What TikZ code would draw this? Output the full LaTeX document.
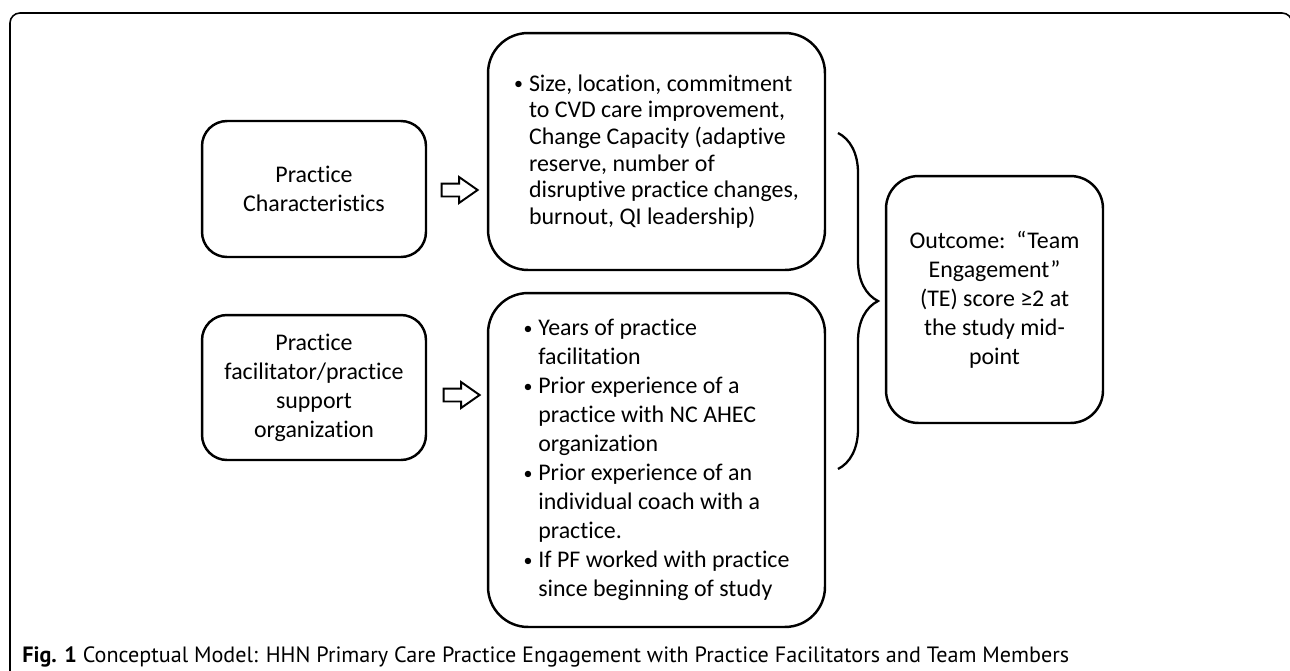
\documentclass[tikz,border=0pt]{standalone}
\usepackage{fontspec}
\setmainfont{Carlito}[Ligatures={TeX,NoCommon}]
\newfontfamily\capfont{PT Sans}
\usetikzlibrary{shapes.arrows,decorations.pathreplacing}

\newcommand\itemdot{\makebox[0.62em][l]{\raisebox{0.1ex}{\scalebox{0.75}{•}}}}
\newcommand\itemgap{\hspace*{0.62em}}

\begin{document}
\begin{tikzpicture}[x=0.02cm,y=-0.02cm,
		box/.style={draw=black,line width=1.4pt,rounded corners=0.5cm,align=center,inner sep=0pt,
			font=\fontsize{13.6}{16.5}\selectfont},
		listbox/.style={box,align=left,rounded corners=0.8cm},
		goarrow/.style={single arrow,draw=black,line width=1.1pt,fill=white,inner sep=0.11cm,
			minimum height=0.72cm,single arrow head extend=0.13cm,single arrow tip angle=70}]
		\useasboundingbox (0,0) rectangle (1290,670);
		\clip (0,0) rectangle (1290,670);
		% figure frame
		\draw [line width=0.9pt,rounded corners=0.2cm] (10,690) -- (10,13) -- (1292,13) -- (1292,120);
		% left column
		\node [box,minimum width=4.48cm,minimum height=2.72cm] (chars) at (314,189) {Practice\\Characteristics};
		\node [box,minimum width=4.48cm,minimum height=2.9cm] (pf) at (314,387.5) {Practice\\facilitator/practice\\support\\organization};
		% middle column
		\node [listbox,minimum width=6.74cm,minimum height=4.74cm,font=\fontsize{13.6}{15.2}\selectfont] (size) at (656.5,151.5) {%
			\itemdot Size, location, commitment\\
			\itemgap to CVD care improvement,\\
			\itemgap Change Capacity (adaptive\\
			\itemgap reserve, number of\\
			\itemgap disruptive practice changes,\\
			\itemgap burnout, QI leadership)};
		\node [listbox,minimum width=6.74cm,minimum height=6.68cm] (years) at (656.5,460) {%
			\itemdot Years of practice\\
			\itemgap facilitation\\
			\itemdot Prior experience of a\\
			\itemgap practice with NC AHEC\\
			\itemgap organization\\
			\itemdot Prior experience of an\\
			\itemgap individual coach with a\\
			\itemgap practice.\\
			\itemdot If PF worked with practice\\
			\itemgap since beginning of study};
		% arrows
		\node [goarrow] (go1) at (455,190) {};
		\node [goarrow] (go2) at (457,395) {};
		% brace and outcome
		\coordinate (braceTop) at (838,133);
		\coordinate (braceBot) at (838,469);
		\draw [line width=1.3pt,decorate,decoration={brace,amplitude=0.8cm}] (braceTop) -- (braceBot);
		\node [box,rounded corners=0.65cm,minimum width=4.34cm,minimum height=4.94cm] (outcome) at (994.5,299.5) {Outcome:\ \ “Team\\Engagement”\\(TE) score ≥2 at\\the study mid-\\point};
		% caption
		\node [anchor=base west,inner sep=0pt,font=\capfont\fontsize{12.6}{14}\selectfont] (caption) at (22,662) {\textbf{Fig. 1} Conceptual Model: HHN Primary Care Practice Engagement with Practice Facilitators and Team Members};
\end{tikzpicture}
\end{document}
